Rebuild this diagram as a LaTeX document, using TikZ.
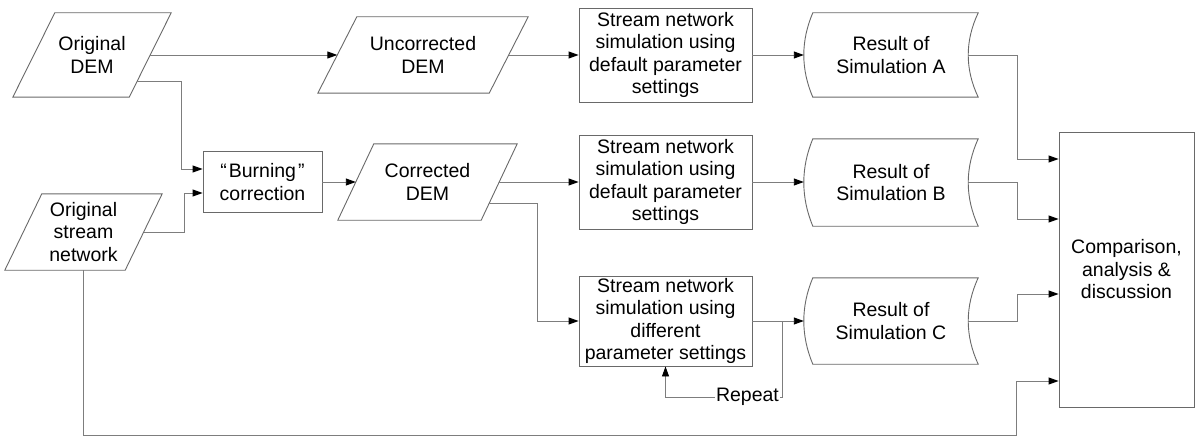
\documentclass[tikz,border=0pt]{standalone}
\usepackage{fontspec}
\setmainfont{Liberation Sans}
\usetikzlibrary{calc,arrows.meta}
\definecolor{linegray}{RGB}{125,125,125}
\definecolor{shapegray}{RGB}{105,105,105}
\begin{document}
\begin{tikzpicture}[x=1pt,y=-1pt,
  lbl/.style={align=center,font=\fontsize{19.5}{22.5}\selectfont,inner sep=0pt},
  box/.style={lbl,draw=shapegray,line width=0.9pt},
  outline/.style={draw=shapegray,line width=0.9pt},
  conn/.style={draw=linegray,line width=0.9pt},
  arr/.style={conn,-{Triangle[length=10pt,width=7pt,color=black]}}
]
\useasboundingbox[fill=white] (0,0) rectangle (1200,444);

% ---------- parallelograms (data) ----------
\node[lbl,minimum width=158pt,minimum height=84pt] (od) at (92,55) {Original\\DEM};
\draw[outline] ($(od.north west)+(42,0)$) -- (od.north east) -- ($(od.south east)+(-42,0)$) -- (od.south west) -- cycle;

\node[lbl,minimum width=210pt,minimum height=76pt] (ud) at (423,55) {Uncorrected\\DEM};
\draw[outline] ($(ud.north west)+(39,0)$) -- (ud.north east) -- ($(ud.south east)+(-39,0)$) -- (ud.south west) -- cycle;

\node[lbl,minimum width=179pt,minimum height=76pt] (cd) at (427.5,182) {Corrected\\DEM};
\draw[outline] ($(cd.north west)+(36,0)$) -- (cd.north east) -- ($(cd.south east)+(-36,0)$) -- (cd.south west) -- cycle;

\node[lbl,minimum width=157pt,minimum height=76pt] (osn) at (83.5,232) {Original\\stream\\network};
\draw[outline] ($(osn.north west)+(37,0)$) -- (osn.north east) -- ($(osn.south east)+(-37,0)$) -- (osn.south west) -- cycle;

% ---------- process boxes ----------
\node[box,minimum width=119pt,minimum height=61pt] (bc) at (262.5,182) {“\kern2pt Burning\kern2pt ”\\correction};
\node[box,minimum width=173pt,minimum height=94pt] (ba) at (665.5,55) {Stream network\\simulation using\\default parameter\\settings};
\node[box,minimum width=173pt,minimum height=94pt] (bb) at (665.5,182) {Stream network\\simulation using\\default parameter\\settings};
\node[box,minimum width=173pt,minimum height=90pt] (bcc) at (665.5,321) {Stream network\\simulation using\\different\\parameter settings};
\node[box,minimum width=135pt,minimum height=275pt] (cmp) at (1126.5,269.5) {Comparison,\\analysis \&\\discussion};

% ---------- stored data shapes ----------
\foreach \n/\cy/\h/\t in {ra/55/84/A, rb/182.5/87/B, rc/321/86/C}{
  \node[lbl,minimum width=174pt,minimum height=\h pt] (\n) at (891,\cy) {Result of\\Simulation \t};
  \draw[outline] ($(\n.north west)+(9,0)$) -- (\n.north east)
     .. controls ($(\n.north east)!0.333!(\n.south east)+(-13.3,0)$) and ($(\n.north east)!0.667!(\n.south east)+(-13.3,0)$) .. (\n.south east)
     -- ($(\n.south west)+(9,0)$)
     .. controls ($(\n.south west)!0.333!(\n.north west)+(-3,0)$) and ($(\n.south west)!0.667!(\n.north west)+(-3,0)$) .. ($(\n.north west)+(9,0)$) -- cycle;
}

% ---------- connectors ----------
\draw[arr] ($(od.east)+(-21,0)$) -- ($(ud.west)+(19.5,0)$);
\draw[arr] ($(ud.east)+(-19.5,0)$) -- (ba.west);
\draw[arr] (ba.east) -- (ra.west);

\draw[arr] ($(od.east)+(-34,26)$) -- ++(44,0) |- ($(bc.west)+(0,-13)$);
\draw[arr] ($(osn.east)+(-18.5,0)$) -- ++(40.5,0) |- ($(bc.west)+(0,11)$);

\draw[arr] (bc.east) -- ($(cd.west)+(18,0)$);
\draw[arr] ($(cd.east)+(-18,0)$) -- (bb.west);
\draw[arr] ($(cd.east)+(-28,21)$) -- ++(48,0) |- (bcc.west);
\draw[arr] (bb.east) -- ($(rb.west)+(0,-0.5)$);
\draw[arr] (bcc.east) -- (rc.west);

\draw[arr] ($(ra.east)+(-10,0)$) -- ++(49,0) |- ($(cmp.west)+(0,-110.5)$);
\draw[arr] ($(rb.east)+(-10,0)$) -- ++(49,0) |- ($(cmp.west)+(0,-50.5)$);
\draw[arr] ($(rc.east)+(-10,0)$) -- ++(49,0) |- ($(cmp.west)+(0,24.5)$);
\draw[arr] (osn.south) |- ($(cmp.west)+(-42,165.5)$) |- ($(cmp.west)+(0,111.5)$);

% repeat loop
\draw[arr] ($(bcc.east)+(30,0)$) -- ++(0,76) -| (bcc.south);
\node[lbl,fill=white,inner xsep=1pt,inner ysep=0pt] (rep) at ($(bcc.east)+(-5,76)$) {Repeat};
\end{tikzpicture}
\end{document}
